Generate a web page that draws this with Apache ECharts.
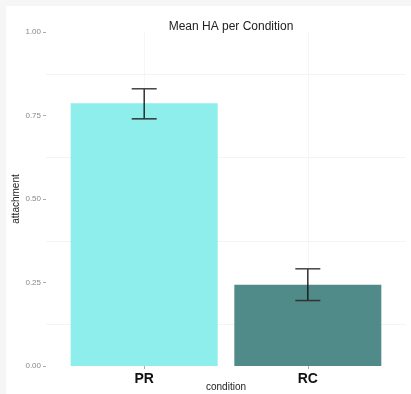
<!DOCTYPE html>
<html>
<head>
<meta charset="utf-8">
<script src="https://cdn.jsdelivr.net/npm/echarts@6/dist/echarts.min.js"></script>
<style>html,body{margin:0;padding:0;background:#f6f6f6;}#c{width:411px;height:394px;}</style>
</head>
<body>
<div id="c"></div>
<script>
const categories = ["PR", "RC"];
const meanValues = [0.787, 0.243];
const errLow = [0.740, 0.196];
const errHigh = [0.830, 0.291];
const barColors = ["#8DEEEC", "#508A89"];
const yTicks = [0, 0.25, 0.5, 0.75, 1];

const chart = echarts.init(document.getElementById('c'));
const barData = categories.map((c, i) => ({
  value: [i + 1, meanValues[i]],
  itemStyle: { color: barColors[i] }
}));
const errData = categories.map((c, i) => [i + 1, errLow[i], errHigh[i]]);

chart.setOption({
  animation: false,
  backgroundColor: '#f6f6f6',
  graphic: [{
    type: 'rect', z: -10, silent: true,
    shape: { x: 6, y: 6, width: 405, height: 388 },
    style: { fill: '#ffffff' }
  }],
  title: {
    text: 'Mean HA per Condition',
    left: 226, top: 16, textAlign: 'center',
    textStyle: { fontFamily: 'Liberation Sans, Arial, sans-serif', fontSize: 12, fontWeight: 'normal', color: '#222' }
  },
  grid: { left: 46, right: 5, top: 32, bottom: 28, containLabel: false, outerBoundsMode: 'none' },
  xAxis: {
    type: 'value', min: 0.4, max: 2.6,
    name: 'condition', nameLocation: 'middle', nameGap: 16, nameMoveOverlap: false,
    nameTextStyle: { fontFamily: 'Liberation Sans, Arial, sans-serif', fontSize: 10, color: '#222' },
    axisLine: { show: false },
    axisTick: { show: true, customValues: [1, 2], length: 3, lineStyle: { color: '#aaa' } },
    axisLabel: {
      customValues: [1, 2],
      formatter: v => categories[Math.round(v) - 1] || '',
      fontFamily: 'Liberation Sans, Arial, sans-serif', fontSize: 14, fontWeight: 'bold', color: '#111', margin: 6
    },
    splitLine: { show: true, lineStyle: { color: '#f6f6f6', width: 1 } }
  },
  yAxis: [{
    type: 'value', min: 0, max: 1, interval: 0.25,
    name: 'attachment', nameLocation: 'middle', nameGap: 25, nameMoveOverlap: false,
    nameTextStyle: { fontFamily: 'Liberation Sans, Arial, sans-serif', fontSize: 10, color: '#222' },
    axisLine: { show: false },
    axisTick: { show: true, length: 3, lineStyle: { color: '#aaa' } },
    axisLabel: {
      formatter: v => v.toFixed(2),
      fontFamily: 'Liberation Sans, Arial, sans-serif', fontSize: 8, color: '#888', margin: 5
    },
    splitLine: { show: false }
  }, {
    type: 'value', min: 0, max: 1, interval: 0.125,
    position: 'left',
    axisLine: { show: false }, axisTick: { show: false }, axisLabel: { show: false },
    splitLine: { show: true, lineStyle: { color: ['rgba(0,0,0,0)', '#f4f4f4'], width: 1 } }
  }],
  series: [{
    type: 'bar',
    data: barData,
    barWidth: 147,
    yAxisIndex: 0
  }, {
    type: 'custom',
    yAxisIndex: 0,
    z: 5,
    data: errData,
    renderItem: function (params, api) {
      const x = api.value(0);
      const lo = api.coord([x, api.value(1)]);
      const hi = api.coord([x, api.value(2)]);
      const hw = 12.5;
      return {
        type: 'group',
        children: [
          { type: 'line', shape: { x1: lo[0], y1: lo[1], x2: hi[0], y2: hi[1] }, style: { stroke: '#111', lineWidth: 1.3 } },
          { type: 'line', shape: { x1: hi[0] - hw, y1: hi[1], x2: hi[0] + hw, y2: hi[1] }, style: { stroke: '#444', lineWidth: 1.5 } },
          { type: 'line', shape: { x1: lo[0] - hw, y1: lo[1], x2: lo[0] + hw, y2: lo[1] }, style: { stroke: '#333', lineWidth: 1.5 } }
        ]
      };
    }
  }]
});
</script>
</body>
</html>
